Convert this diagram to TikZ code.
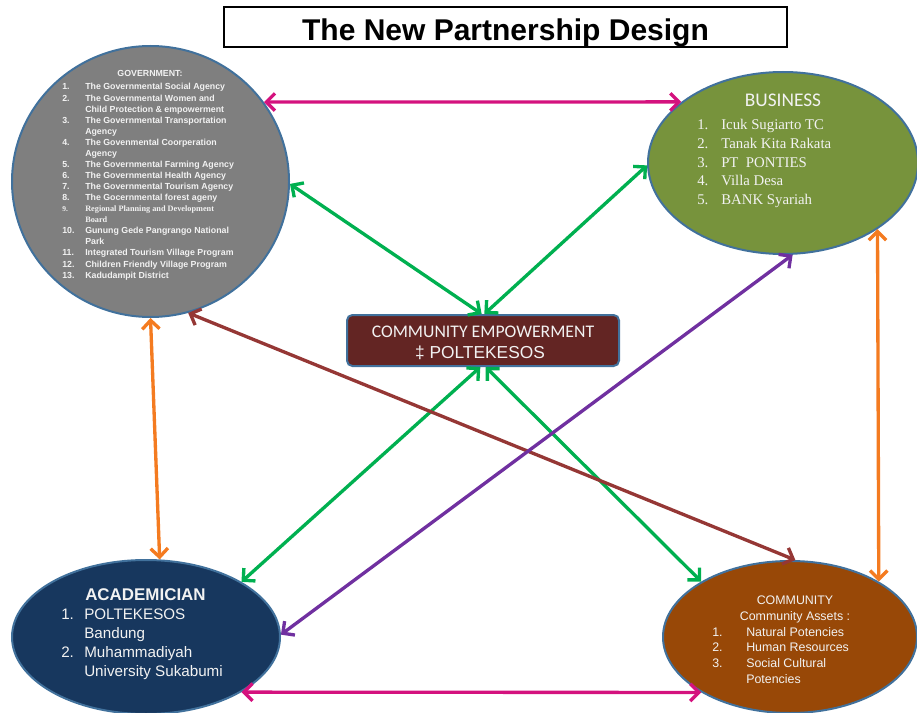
\documentclass[tikz,border=0pt]{standalone}
\usepackage{fontspec}
\setmainfont{Liberation Sans}
\newfontfamily\calibrifont{Carlito}
\newfontfamily\timesfont{Liberation Serif}
\usetikzlibrary{shapes.geometric,arrows.meta}

\definecolor{govfill}{HTML}{7F7F7F}
\definecolor{busfill}{HTML}{77933C}
\definecolor{acadfill}{HTML}{17375E}
\definecolor{commfill}{HTML}{984807}
\definecolor{hubfill}{HTML}{632523}
\definecolor{edgeblue}{HTML}{41719C}
\definecolor{txtwhite}{HTML}{F2F2F2}
\definecolor{linkmagenta}{HTML}{D4127E}
\definecolor{linkgreen}{HTML}{00B050}
\definecolor{linkorange}{HTML}{F47B20}
\definecolor{linkbrown}{HTML}{953735}
\definecolor{linkpurple}{HTML}{7030A0}

\begin{document}
\begin{tikzpicture}[x=0.75pt,y=-0.75pt,
  blob/.style={ellipse,draw=edgeblue,line width=1.5pt,inner sep=0pt},
  link/.style={line width=2.5pt,
    {Straight Barb[length=6.5pt,width=13pt]}-{Straight Barb[length=6.5pt,width=13pt]}},
  txt/.style={inner sep=0pt,text=txtwhite},
]
\useasboundingbox (0,0) rectangle (917,713);

% title
\node[draw=black,line width=0.9pt,minimum width=422.25pt,minimum height=30pt,inner sep=0pt]
  (titlebox) at (505.5,27) {};
\node[inner sep=0pt,anchor=base,font=\fontsize{22.5}{27}\selectfont\bfseries]
  (title) at (505.5,41) {The New Partnership Design};

% the four partners and the hub
\node[blob,fill=govfill,minimum width=207.75pt,minimum height=203.25pt] (gov) at (150.5,181.5) {};
\node[blob,fill=busfill,minimum width=202.5pt,minimum height=136.5pt] (bus) at (783,163) {};
\node[blob,fill=acadfill,minimum width=201pt,minimum height=115.5pt] (acad) at (146,637) {};
\node[blob,fill=commfill,minimum width=190.5pt,minimum height=114pt] (comm) at (790,637) {};
\node[draw=edgeblue,fill=hubfill,line width=1.5pt,rounded corners=4pt,inner sep=0pt,
  minimum width=204pt,minimum height=38.25pt] (hub) at (483,340.5) {};

% government text
\node[txt,anchor=base,font=\fontsize{6.6}{8.3}\selectfont\bfseries] (govhead) at (150,77) {GOVERNMENT:};
\node[txt,anchor=base west,font=\fontsize{6.6}{8.3}\selectfont\bfseries] (govlist) at (62,90) {%
\begin{tabular}[t]{@{}p{17.25pt}@{}l@{}}
1. & The Governmental Social Agency\\
2. & The Governmental Women and\\
   & Child Protection \& empowerment\\
3. & The Governmental Transportation\\
   & Agency\\
4. & The Govenmental Coorperation\\
   & Agency\\
5. & The Governmental Farming Agency\\
6. & The Governmental Health Agency\\
7. & The Governmental Tourism Agency\\
8. & The Gocernmental forest ageny\\
{\timesfont\fontsize{5.6}{8.3}\selectfont 9.} & {\timesfont\fontsize{6.2}{8.3}\selectfont Regional Planning and Development}\\
   & {\timesfont\fontsize{6.2}{8.3}\selectfont Board}\\
10. & Gunung Gede Pangrango National\\
    & Park\\
11. & Integrated Tourism Village Program\\
12. & Children Friendly Village Program\\
13. & Kadudampit District
\end{tabular}};

% business text
\node[txt,anchor=base,font=\calibrifont\fontsize{14.5}{17}\selectfont] (bushead) at (783,107) {BUSINESS};
\node[txt,anchor=base west,font=\timesfont\fontsize{11.1}{14}\selectfont] (buslist) at (697,130) {%
\begin{tabular}[t]{@{}p{18pt}@{}l@{}}
1. & Icuk Sugiarto TC\\
2. & Tanak Kita Rakata\\
3. & PT\ \ PONTIES\\
4. & Villa Desa\\
5. & BANK Syariah
\end{tabular}};

% hub text
\node[txt,anchor=base,font=\calibrifont\fontsize{13.3}{16}\selectfont] (hubtop) at (483,337) {COMMUNITY EMPOWERMENT};
\node[txt,anchor=base,font=\fontsize{13}{15}\selectfont] (hubbottom) at (480,358) {‡ POLTEKESOS};

% academician text
\node[txt,anchor=base west,font=\fontsize{12.7}{15}\selectfont\bfseries] (acadhead) at (85,600) {ACADEMICIAN};
\node[txt,anchor=base west,font=\fontsize{11.4}{14.25}\selectfont] (acadlist) at (61,619) {%
\begin{tabular}[t]{@{}p{17.25pt}@{}l@{}}
1. & POLTEKESOS\\
   & Bandung\\
2. & Muhammadiyah\\
   & University Sukabumi
\end{tabular}};

% community text
\node[txt,anchor=base,font=\fontsize{9.3}{11.85}\selectfont] (commhead) at (795,604) {COMMUNITY};
\node[txt,anchor=base,font=\fontsize{9.3}{11.85}\selectfont] (commsub) at (795,620) {Community Assets :};
\node[txt,anchor=base west,font=\fontsize{9.3}{11.85}\selectfont] (commlist) at (712,636) {%
\begin{tabular}[t]{@{}p{25.5pt}@{}l@{}}
1. & Natural Potencies\\
2. & Human Resources\\
3. & Social Cultural\\
   & Potencies
\end{tabular}};

% two-way links
\draw[link,linkmagenta] (gov.35) -- (bus.149.5);
\draw[link,linkmagenta] (acad.-30) -- (comm.212);
\draw[link,linkgreen] (gov.-1) -- ([xshift=-1pt]hub.north);
\draw[link,linkgreen] (bus.181) -- ([xshift=1pt]hub.north);
\draw[link,linkgreen] ([xshift=-2pt]hub.south) -- (acad.30);
\draw[link,linkgreen] ([xshift=2pt]hub.south) -- (comm.148);
\draw[link,linkorange] (gov.-90) -- (acad.80);
\draw[link,linkorange] (bus.-35) -- (comm.32);
\draw[link,linkbrown] (gov.-74) -- (comm.86);
\draw[link,linkpurple] (bus.-84) -- (acad.1);
\end{tikzpicture}
\end{document}
